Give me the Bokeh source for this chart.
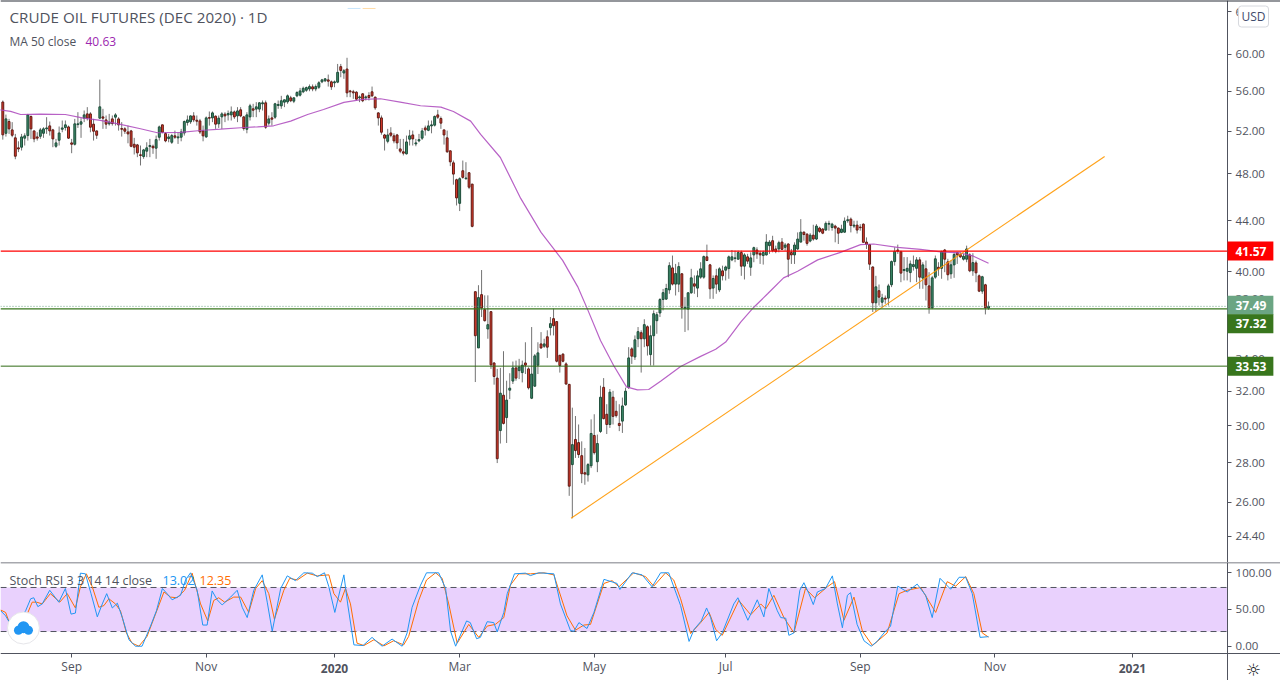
import numpy as np
from bokeh.plotting import figure
from bokeh.layouts import column
from bokeh.models import (ColumnDataSource, FixedTicker, NumeralTickFormatter, Range1d,
                          Span, Label, BoxAnnotation, LogAxis, LinearAxis)
from bokeh.embed import file_html
from bokeh.resources import INLINE

# daily candles
opens = [54.9,51.79,52.94,52.12,51.35,50.4,50.46,51.32,51.57,53.44,
    52.02,51.44,51.5,51.79,52.22,52.51,52.12,50.55,51.12,52.18,
    52.35,52.41,50.87,50.74,52.64,52.68,53.27,53.7,53.7,52.68,
    52.02,53.27,53.4,53.1,52.71,53.2,53.37,53.2,52.25,52.22,
    51.92,52.02,50.74,50.68,49.75,49.59,50.09,50.52,50.55,50.37,
    51.41,52.61,51.76,51.28,50.93,51.54,51.35,51.41,51.82,52.84,
    52.91,53.5,53.07,53.0,52.02,51.44,53.33,53.3,53.47,52.71,
    53.4,53.67,53.6,53.6,53.9,53.5,54.11,53.4,52.18,53.4,
    54.21,54.18,54.18,54.72,54.82,52.78,53.3,53.37,54.55,54.51,
    54.89,54.92,55.33,54.99,55.54,55.61,55.96,56.12,56.26,56.48,
    56.26,56.44,57.01,57.12,57.22,57.01,56.91,56.98,58.65,57.96,
    58.39,56.05,55.96,55.92,55.33,55.75,55.33,55.58,55.96,55.4,
    53.8,53.3,51.63,51.02,51.82,51.54,51.63,50.3,50.03,49.84,
    51.22,51.63,50.77,51.06,51.32,52.31,52.08,52.51,52.58,53.6,
    53.24,52.12,51.35,50.12,49.01,47.49,45.44,48.29,47.58,48.11,
    47.1,38.53,34.69,38.32,37.26,35.94,37.12,33.73,32.79,29.73,
    31.76,30.46,32.06,32.61,33.42,33.25,33.13,33.73,33.36,31.58,
    32.3,33.59,34.95,34.8,35.42,36.03,36.64,36.44,34.22,34.29,
    33.67,32.41,27.9,29.24,29.07,28.37,27.48,27.37,27.84,29.46,
    28.05,29.68,32.23,30.65,30.07,31.64,30.82,30.13,30.26,31.19,
    32.23,34.63,34.11,35.29,35.69,35.29,36.09,34.26,35.49,36.5,
    37.03,37.97,38.0,38.66,40.28,39.08,39.08,39.84,37.35,37.3,
    38.45,39.1,38.79,39.59,39.59,41.12,40.51,38.79,39.69,38.66,
    40.06,40.11,40.23,40.89,41.0,40.94,41.45,40.41,41.12,40.33,
    41.27,41.65,41.4,41.22,41.27,41.99,42.38,41.73,41.73,42.27,
    41.86,42.12,41.45,41.27,41.73,42.27,43.06,42.9,42.35,42.82,
    42.51,43.39,43.31,43.23,43.71,43.44,43.55,43.39,43.04,43.06,
    43.99,44.12,43.55,43.63,43.47,43.71,42.27,42.07,40.35,37.74,
    38.6,37.78,38.07,38.07,39.03,40.76,41.65,41.52,40.08,40.03,
    39.93,40.38,40.25,40.89,39.52,40.21,38.95,37.39,39.59,40.33,
    40.25,41.65,40.74,39.84,40.51,41.45,41.3,40.94,40.94,41.27,
    40.06,40.66,39.69,38.57,39.03,37.37]
highs = [55.06,53.63,53.2,52.88,51.73,51.02,51.73,51.79,53.7,53.54,
    52.05,51.89,52.31,52.38,53.37,52.94,52.22,51.25,52.45,53.04,
    53.04,52.54,51.25,53.2,53.87,53.27,54.04,54.38,53.87,53.2,
    52.05,57.25,54.21,53.54,53.7,53.54,53.77,53.37,52.88,52.38,
    52.54,52.12,51.35,50.77,50.62,50.3,50.93,51.25,50.71,51.57,
    52.54,52.64,51.89,51.73,51.73,52.05,51.89,52.22,53.04,53.54,
    53.54,53.87,53.54,53.2,52.54,53.44,53.94,53.94,53.54,53.54,
    53.87,53.87,54.04,54.45,54.04,54.38,54.38,53.5,53.87,54.72,
    54.72,54.89,54.89,55.06,55.06,53.54,53.87,54.82,55.06,55.54,
    55.13,55.68,55.54,55.4,56.02,56.37,56.51,56.51,56.73,56.73,
    56.73,57.08,57.33,57.4,57.79,57.15,57.15,58.95,58.95,58.39,
    59.63,56.16,56.16,56.02,55.58,55.82,55.58,55.92,56.51,55.47,
    53.87,53.54,51.73,52.22,52.38,51.79,51.73,51.25,51.25,51.57,
    52.12,52.05,51.25,51.73,52.31,52.54,53.04,53.04,53.54,54.11,
    53.44,52.12,52.05,50.15,49.22,47.58,47.7,49.22,49.07,48.17,
    47.13,38.53,39.0,40.12,38.27,38.27,37.16,33.77,33.36,33.42,
    34.48,32.63,33.09,33.82,33.88,33.99,33.88,35.06,33.46,36.07,
    34.3,35.06,35.73,35.29,35.85,36.75,37.33,36.44,34.22,34.35,
    33.77,32.43,31.03,30.55,30.07,29.14,28.78,27.98,30.36,30.65,
    29.51,32.33,32.79,31.23,32.13,32.02,31.43,31.23,31.62,32.21,
    34.74,34.74,35.51,36.07,35.85,36.6,36.18,36.18,37.21,37.1,
    38.07,38.73,39.1,40.71,41.22,40.58,40.71,39.89,38.14,38.5,
    40.21,39.72,40.08,40.71,41.22,42.07,40.58,39.72,40.21,40.33,
    40.45,40.45,41.22,41.65,41.6,41.6,41.6,41.4,41.35,41.47,
    41.91,41.86,41.6,41.6,42.9,42.43,42.77,41.99,42.38,42.59,
    42.2,42.17,41.73,42.25,43.04,44.12,43.12,42.98,42.98,43.66,
    43.71,43.5,43.39,43.93,43.99,43.82,43.66,43.44,43.66,44.26,
    44.4,44.26,43.99,43.99,43.71,43.77,42.64,42.12,40.4,39.69,
    39.05,38.38,38.26,39.1,40.84,41.86,42.07,41.6,41.1,41.1,
    40.84,41.22,41.1,41.1,40.71,40.84,39.96,39.69,41.22,40.71,
    41.6,41.73,40.97,40.84,41.47,41.47,41.47,41.35,41.99,41.4,
    41.4,40.84,39.79,39.69,39.1,37.83]
lows = [51.18,51.47,51.73,51.41,49.34,50.0,50.15,50.62,51.09,51.25,
    50.93,51.09,51.25,51.35,51.73,51.57,50.46,50.4,50.62,51.89,
    52.05,51.25,49.9,50.62,52.31,51.35,52.88,53.04,51.89,51.09,
    51.25,53.2,52.22,52.22,52.54,52.54,52.54,52.05,51.47,51.73,
    50.83,50.46,49.78,49.53,48.77,49.38,49.53,49.53,49.84,49.38,
    51.09,51.79,50.93,50.93,50.77,51.25,50.77,51.02,51.57,52.54,
    52.71,52.88,52.54,51.73,51.02,51.35,52.54,52.88,52.22,52.31,
    52.22,52.88,53.04,53.04,53.2,52.88,53.37,52.05,51.79,53.04,
    53.37,53.37,53.87,54.04,52.22,52.54,52.54,53.2,54.21,54.21,
    54.38,54.72,54.89,54.79,55.4,55.47,55.82,55.96,56.02,56.02,
    56.02,56.26,56.87,56.98,56.51,56.16,56.44,56.87,57.5,57.33,
    55.4,55.4,55.23,55.06,54.89,54.89,55.06,55.06,55.4,54.11,
    52.54,51.66,50.15,50.83,51.41,50.83,50.3,49.9,49.69,49.78,
    50.62,50.62,50.55,50.93,51.15,51.57,51.99,51.79,52.45,53.2,
    52.22,50.71,49.93,48.71,47.05,45.26,44.79,47.58,47.49,46.66,
    43.45,32.55,34.69,36.75,36.44,35.29,33.36,32.39,27.98,29.02,
    30.07,29.05,31.53,32.43,32.63,32.73,32.53,33.04,32.1,31.53,
    32.26,33.04,34.63,34.69,34.05,35.51,35.51,33.77,33.13,33.77,
    32.39,26.32,25.24,28.25,28.25,26.95,26.87,27.03,27.72,28.43,
    27.51,29.6,30.36,29.54,29.88,30.07,30.46,29.7,29.6,31.13,
    32.13,33.67,33.92,34.74,33.13,34.74,34.2,33.57,33.57,35.62,
    36.75,37.21,37.95,38.38,38.98,38.26,38.5,36.64,35.74,35.85,
    38.38,38.38,38.14,39.47,39.47,40.79,38.02,38.02,38.38,38.5,
    39.35,39.35,39.47,40.79,40.71,40.91,39.69,39.42,40.58,39.69,
    40.71,40.97,40.58,40.53,41.22,41.35,41.47,41.4,41.47,41.65,
    41.6,39.59,40.58,40.58,41.65,42.25,42.38,41.99,42.25,42.38,
    42.43,43.01,42.9,43.18,43.18,43.18,42.25,42.12,42.98,43.01,
    43.82,43.04,43.39,42.95,43.18,42.25,41.73,40.13,37.1,37.1,
    37.55,37.42,37.67,37.55,38.86,40.45,41.35,39.22,39.35,39.35,
    39.22,40.08,39.22,38.74,38.74,37.9,36.98,37.3,39.47,39.69,
    39.47,39.96,39.35,39.47,39.54,40.58,41.04,40.84,40.71,39.96,
    39.69,39.22,38.5,38.38,36.93,37.25]
closes = [51.64,53.2,52.22,51.6,49.62,50.3,51.44,51.54,53.6,52.22,
    51.25,51.32,52.12,52.22,52.31,52.02,51.25,50.87,51.82,52.31,
    52.61,51.32,50.74,52.71,52.71,52.91,53.6,53.27,52.38,51.99,
    51.6,54.41,53.27,52.68,52.88,52.74,53.6,52.61,52.18,51.99,
    51.73,50.55,50.46,49.93,49.69,50.21,50.4,50.62,50.4,51.18,
    52.41,51.89,51.06,51.44,51.57,51.41,51.44,51.92,52.94,53.1,
    53.5,53.1,52.97,51.92,51.54,53.3,53.27,53.8,52.68,53.27,
    53.7,53.5,53.74,53.9,53.4,54.0,53.5,52.25,53.6,54.51,
    54.07,54.41,54.82,54.82,52.38,53.2,53.17,54.72,54.65,55.03,
    55.13,55.54,55.03,55.33,55.89,56.05,56.33,56.4,56.51,56.26,
    56.51,56.91,57.22,57.33,57.08,56.48,57.01,58.03,58.24,58.2,
    55.85,55.96,55.85,55.2,55.43,55.03,55.43,55.37,55.54,54.31,
    53.3,51.89,51.32,51.63,51.6,51.06,50.87,50.09,49.9,50.96,
    51.54,51.25,50.87,51.18,52.02,52.12,52.51,52.61,53.44,53.37,
    52.78,51.63,50.03,49.1,47.99,45.9,47.58,47.7,47.64,46.83,
    43.53,35.49,38.11,37.38,36.5,36.23,33.61,32.89,28.21,31.88,
    30.13,31.47,32.18,33.42,32.79,33.48,33.59,33.59,32.2,33.04,
    34.18,34.37,34.69,34.95,34.74,36.3,36.16,33.84,33.57,33.84,
    32.43,26.8,28.96,28.64,28.43,27.43,27.41,27.9,29.57,28.53,
    29.02,31.64,30.4,30.07,31.94,30.53,30.57,30.01,31.13,32.0,
    34.05,34.16,35.22,35.76,35.29,36.23,34.82,35.49,36.98,36.91,
    37.97,38.46,38.76,40.45,39.08,39.86,40.38,37.42,37.42,38.45,
    39.54,38.93,39.69,40.21,41.14,40.84,38.74,39.49,39.08,40.21,
    39.69,40.35,41.12,41.12,41.04,41.45,40.41,41.27,40.79,41.04,
    41.83,41.35,41.27,41.45,42.27,42.27,41.6,41.53,42.22,41.7,
    42.04,40.94,41.27,42.04,42.51,43.06,42.87,42.17,42.82,42.51,
    43.55,43.12,42.98,43.77,43.77,43.71,43.39,42.98,43.31,43.96,
    44.07,43.6,43.63,43.23,43.42,42.25,42.09,40.56,37.74,38.88,
    38.14,38.09,38.0,38.95,40.76,41.55,41.55,39.89,40.16,40.25,
    40.58,40.53,40.89,39.59,40.51,39.03,37.39,39.54,40.97,40.21,
    41.52,40.94,39.77,40.51,41.3,41.27,41.12,41.17,41.73,40.06,
    40.68,39.91,38.57,39.62,37.39,37.49]

# MA 50, knots (bar number, price)
ma_bars = [-1,2.5,5.7,12,20,25.8,31.2,37.6,44,49.4,56.8,63.2,69.6,76,81.4,86.5,92,97.4,102.5,109,115,
    120.7,127,133.5,140,144,149.5,152.7,159,165.5,172,178.9,183.7,187,191,195.2,199.3,202.8,206.4,210.2,
    216.6,223,227.8,231,235.8,240,244.4,249.5,254,260.4,267.7,274.1,278.3,285.9,293.3,299.7,306,310.2,315]
ma_vals = [54.11,53.95,53.64,53.67,53.64,53.27,53.05,52.65,52.23,51.84,51.87,52.06,52.19,52.33,52.42,52.52,
    52.98,53.64,54.14,54.86,55.17,55.24,54.89,54.52,54.38,53.94,52.98,51.68,49.5,45.86,43.04,40.85,38.9,
    37.21,35.17,33.57,32.26,32.08,32.1,32.6,33.51,34.15,34.6,35.07,36.4,37.43,38.38,39.54,40.03,40.89,
    41.47,42.07,42.12,41.85,41.7,41.5,41.42,41.17,40.63]

# trend line ends
trend_bars = [181.6, 352.1]
trend_vals = [25.24, 49.6]

# stochastic rsi
k_bars = [-0.7,0.9,2.5,5.7,7.3,8.9,9.9,11.2,12.6,15,17.9,20,21.8,23.2,24.8,26.4,28.2,30.2,31.8,33.2,35,36.6,38.2,
    40.3,42.4,44.5,47.2,49.1,51,52.5,54.1,56.8,58.4,60,62.1,63.9,65.3,66.9,68.5,70.1,72.8,74.9,76.5,78.1,80.2,
    82.9,84.5,86.1,88.8,90.9,93.5,96.2,98.9,100.5,102.8,104.2,106.1,107.9,109,110.2,112.2,115.1,118,121.2,124.4,
    127.6,129.2,130.8,133.5,135.4,139.3,141.5,143.1,144.7,148.2,149.4,151.4,152.6,154.8,156.9,158,160.1,161.2,
    163.5,167,168.6,171.3,176.1,178.2,181.4,182.5,184.1,186.7,188.9,192.1,196.3,197.2,201.1,204.3,207.5,210.2,
    212.8,216.6,219.3,220.9,223.2,224.9,226.2,228.1,229.9,233.6,234.9,236.3,238.1,241.1,243.2,244.8,247.5,248.6,
    250.2,251.2,252.8,254.7,256,257.6,259,260.3,262.9,265.1,266.7,268.3,269.9,270.9,273,275.2,277.5,279.4,281.6,
    283.7,286,289,292.2,294.9,297,299.5,302.9,305.6,307.7,309.8,312.3,315]
k_vals = [48.3,41.4,29.7,39,48.3,64.6,66,53.9,57.6,76.2,60,78.6,43.7,45.1,99.5,98.6,71.6,40,57.6,71.6,52.1,58.6,39,
    8.8,0,0,27.4,48.3,78.6,71.6,63.2,69.3,90.2,100,76.2,28.8,28.8,75.3,63.2,56.2,66.9,76.2,53,39,76.2,
    97.2,60,20.4,78.6,95.8,89.3,100,99.5,94.8,100,80.9,46,78.6,97.2,57.6,1.8,0.9,12,0,9.7,
    0,18.1,53,83.2,100,100,78.6,20.4,0,34.4,32.1,10.2,12,33.4,32.1,19.5,46,71.6,
    98.6,99.5,96.2,100,98.6,57.6,21.4,20.4,32.1,24.1,46,91.1,85.5,77.2,100,97.2,80.9,100,
    100,55.3,6.5,22.8,34.4,52.1,39,7.4,18.1,57.6,66,53,35.3,63.2,40,78.6,48.3,39,
    38.1,14.8,18.1,76.2,86.5,71.6,56.7,73.9,78.6,95.8,57.6,25.1,69.3,73,29.7,7.4,0,6.5,18.1,
    27.4,81.8,73.9,84.6,69.3,39,92.5,77.6,93.9,93.9,71.6,12,13.02]
d_bars = [-0.7,0.9,2.5,5.7,7.8,9.4,10.8,12.6,15.2,18.2,20.6,23.2,24.8,26.7,28.6,30.7,32.3,33.9,36,37.6,39.5,41.3,43.5,
    46.1,48.8,51.5,53.6,55.7,58.1,60.5,63.2,65.5,67.4,69,70.9,73.8,76,78.6,80.8,82.9,85,86.8,89.8,91.7,94.1,97.3,
    100.5,104.2,105.8,107.9,109.5,111.1,113.2,115.4,118.6,121.8,124.9,128.1,129.7,132.9,135.4,138.3,140.4,142.5,
    145.2,148.9,152.1,154.8,157.4,160.1,162.2,164.9,168.6,172.9,176.1,180.3,183,185.7,187.8,192.1,194.7,196.9,
    201.6,205.4,208,211.8,214.4,216.6,219.8,223,225.7,227.8,229.9,235.2,239,242.2,243.8,246.4,249.6,252.8,256.5,
    259.4,263.5,265.8,268.8,272,274.7,277.9,282.6,286.4,289,293.3,298.1,301.8,304.5,307.7,310.3,313,315]
d_vals = [49.3,46,27.4,34.4,43.7,60,60,57.6,71.6,60,71.6,52.1,80.9,98.6,80.9,53,55.3,64.6,57.6,48.3,18.1,4.1,0,
    13.4,43.7,73.9,66.9,66,76.2,99.5,57.6,34.4,62.3,66,60,66.9,66.9,46,78.6,89.3,71.6,36.7,76.2,92.5,90.2,99.5,
    95.8,97.2,71.6,60,78.6,57.6,4.1,0.9,8.8,0.4,7.4,1.8,13.4,62.3,90.2,100,92.5,57.6,
    4.1,29.7,12,27.4,29.7,39,83.2,98.6,98.6,100,97.2,41.4,21.8,28.8,29.7,85.5,89.3,80.9,
    100,94.8,81.8,100,90.2,64.6,17.2,32.1,46,22.8,14.8,62.3,42.8,57.6,50.7,69.3,39,18.1,78.6,
    66,80.9,87.9,35.3,66.9,20.4,0.9,18.1,71.6,76.2,80,46,87.9,81.8,94.8,71.6,18.1,12.35]

# levels on the price pane
resistance = 41.57
support = 37.32
support_low = 33.53
last_price = 37.49

# axis labels
price_ticks = [24.4, 26, 28, 30, 32, 34, 36, 38, 40, 44, 48, 52, 56, 60, 65]
stoch_ticks = [0, 50, 100]
time_ticks = [22, 65, 106, 146, 189, 231, 274, 317, 361]
time_labels = ["Sep", "Nov", "", "Mar", "May", "Jul", "Sep", "Nov", ""]
year_ticks = [106, 361]
year_labels = ["2020", "2021"]

FONT = "Open Sans"
GREY = "#50535e"
RED_BODY, RED_EDGE = "#e03c2c", "#5e1b15"
GREEN_BODY, GREEN_EDGE = "#3c8c6a", "#1d4c39"

# the frames fill the page, both scales sit inside them with fixed_location
SCALE_X = 391.4
x_range = Range1d(-0.735, 408.3)
PRICE_TOP, PRICE_BOTTOM = 66.36, 23.24
STOCH_TOP, STOCH_BOTTOM, STOCH_AXIS = 114.03, -46.73, -10.35

bars = np.arange(len(opens))
src = ColumnDataSource(dict(x=bars, o=opens, h=highs, l=lows, c=closes))
up = np.array(closes) >= np.array(opens)

price = figure(width=1280, height=562, x_range=x_range, y_range=Range1d(PRICE_BOTTOM, PRICE_TOP),
               y_axis_type="log", y_axis_location=None, x_axis_location=None,
               output_backend="svg", toolbar_location=None, min_border=0)
price.grid.visible = False
price.outline_line_color = None

price_axis = LogAxis(fixed_location=SCALE_X, ticker=FixedTicker(ticks=price_ticks),
                     formatter=NumeralTickFormatter(format="0.00"))
price.add_layout(price_axis, "right")

stoch = figure(width=1280, height=118, x_range=x_range, y_range=Range1d(STOCH_BOTTOM, STOCH_TOP),
               y_axis_location=None, x_axis_location=None, output_backend="svg",
               toolbar_location=None, min_border=0)
stoch.grid.visible = False
stoch.outline_line_color = None

stoch_axis = LinearAxis(fixed_location=SCALE_X, ticker=FixedTicker(ticks=stoch_ticks),
                        formatter=NumeralTickFormatter(format="0.00"))
stoch.add_layout(stoch_axis, "right")
time_axis = LinearAxis(fixed_location=STOCH_AXIS, ticker=FixedTicker(ticks=time_ticks),
                       major_label_overrides=dict(zip(time_ticks, time_labels)))
stoch.add_layout(time_axis, "below")

for ax in [price_axis, stoch_axis, time_axis]:
    ax.axis_line_color = GREY
    ax.major_tick_line_color = GREY
    ax.minor_tick_line_color = None
    ax.major_tick_in = 0
    ax.major_tick_out = 4
    ax.major_label_text_color = GREY
    ax.major_label_text_font = FONT
    ax.major_label_text_font_size = "11.5px"
    ax.major_label_standoff = 4
time_axis.major_label_standoff = 0
time_axis.major_label_text_font_size = "12px"

# candles
price.segment("x", "h", "x", "l", source=src, color="#737373", line_width=1)
for mask, body, edge in [(up, GREEN_BODY, GREEN_EDGE), (~up, RED_BODY, RED_EDGE)]:
    s = ColumnDataSource(dict(x=bars[mask], o=np.array(opens)[mask], c=np.array(closes)[mask]))
    price.vbar("x", 0.6, "o", "c", source=s, fill_color=body, line_color=edge, line_width=1)

price.line(ma_bars, ma_vals, color="#ab47bc", line_width=1.2, line_alpha=0.85)
price.line(trend_bars, trend_vals, color="#ff9800", line_width=1.1, line_alpha=0.9)

span_x = [x_range.start, SCALE_X]
price.line(span_x, [resistance, resistance], color="#ff0000", line_width=1.2)
price.line(span_x, [support, support], color="#38761d", line_width=1.2)
price.line(span_x, [support_low, support_low], color="#2f6a14", line_width=1)
price.line(span_x, [last_price, last_price], color="#6ba583", line_width=1, line_dash="1 2")
price.add_layout(Span(location=PRICE_TOP, dimension="width", line_color="#2a2e39", line_width=2))

# faint stray strokes under the top edge
price.line([110.2, 114.3], [65.38, 65.38], color="#2196f3", line_alpha=0.25, line_width=1)
price.line([115, 119.1], [65.38, 65.38], color="#ff9800", line_alpha=0.35, line_width=1)


def text(p, x, y, s, color=GREY, size="12px", **kw):
    p.add_layout(Label(x=x, y=y, x_units="screen", y_units="screen", text=s, text_color=color,
                       text_font=FONT, text_font_size=size, text_baseline="middle", **kw))


def tag(y, s, color, shift=0):
    # padding is left, right, top, bottom
    price.add_layout(Label(x=1227, x_units="screen", y=y, y_offset=shift, text=s, text_color="white",
                           text_font=FONT, text_font_size="12px", text_font_style="bold",
                           text_baseline="middle", background_fill_color=color,
                           padding=(8, 7, 5, 5)))


tag(resistance, "41.57", "#ff0000")
tag(last_price, "37.49", "#6ba583", shift=1)
tag(support, "37.32", "#38761d", shift=-15)
tag(support_low, "33.53", "#38761d")

# legends
text(price, 9, 546, "CRUDE OIL FUTURES (DEC 2020) \u00b7 1D", size="15.2px")
text(price, 9, 521, "MA 50 close")
text(price, 85, 521, "40.63", color="#9c27b0")
price.add_layout(Label(x=1253, y=546, x_units="screen", y_units="screen", text="USD", text_color="#3f4a6b",
                       text_font=FONT, text_font_size="12px", text_baseline="middle", text_align="center",
                       background_fill_color="white", border_line_color="#d6d8de", padding=(3, 3, 2, 2),
                       border_radius=3))

# stochastic pane
stoch.add_layout(BoxAnnotation(right=SCALE_X, bottom=20, top=80, fill_color="#e9d1fd", fill_alpha=1,
                               line_color=None, level="underlay"))
stoch.line(span_x, [80, 80], color=GREY, line_width=1, line_dash="6 4")
stoch.line(span_x, [20, 20], color=GREY, line_width=1, line_dash="6 4")
stoch.add_layout(Span(location=STOCH_TOP, dimension="width", line_color=GREY, line_width=1.5))
stoch.line(d_bars, d_vals, color="#ff6d00", line_width=1)
stoch.line(k_bars, k_vals, color="#2196f3", line_width=1)

text(stoch, 9, 100, "Stoch RSI 3 3 14 14 close", size="12.5px")
text(stoch, 162, 100, "13.02", color="#2196f3", size="12.5px")
text(stoch, 199, 100, "12.35", color="#ff6d00", size="12.5px")

for xt, s in zip(year_ticks, year_labels):
    stoch.add_layout(Label(x=xt, y=12, y_units="screen", text=s, text_color=GREY, text_font=FONT,
                           text_font_size="12px", text_font_style="bold", text_align="center",
                           text_baseline="middle"))

# logo
logo_x, logo_y = 6.6, 24.8
stoch.scatter([logo_x], [logo_y], size=32, marker="circle", fill_color="white", line_color="#e6e6ea")
stoch.scatter([logo_x - 1.6, logo_x, logo_x + 1.6], [logo_y - 3, logo_y + 1, logo_y - 3], size=[9, 12, 9],
              marker="circle", fill_color="#2196f3", line_color=None)

stoch.add_layout(Label(x=1253, y=11, x_units="screen", y_units="screen", text="\u263c", text_color="#131722",
                       text_font="DejaVu Sans", text_font_size="17px", text_align="center",
                       text_baseline="middle"))

page = column(price, stoch, spacing=0)
open("out.html", "w").write(file_html(page, INLINE))
